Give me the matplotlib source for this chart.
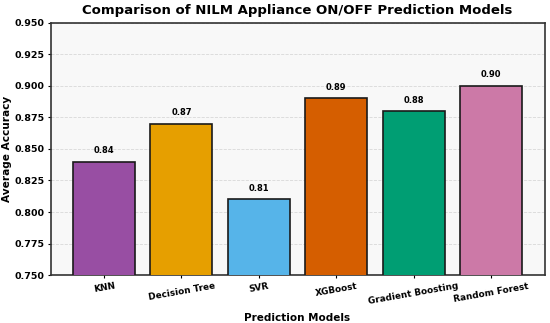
import matplotlib
matplotlib.use("Agg")
import matplotlib.pyplot as plt

models = ["KNN", "Decision Tree", "SVR", "XGBoost", "Gradient Boosting", "Random Forest"]
accuracy = [0.84, 0.87, 0.81, 0.89, 0.88, 0.90]
colors = ["#984ea3", "#e69f00", "#56b4e9", "#d55e00", "#009e73", "#cc79a7"]
yticks = [0.750, 0.775, 0.800, 0.825, 0.850, 0.875, 0.900, 0.925, 0.950]

fig, ax = plt.subplots(figsize=(5.5, 3.23), dpi=100)
fig.subplots_adjust(left=0.092, right=0.99, top=0.93, bottom=0.148)
ax.set_facecolor("#f8f8f8")
x = range(len(models))
bars = ax.bar(x, accuracy, width=0.8, color=colors, edgecolor="#1a1a1a", linewidth=1.2, zorder=3)
for xi, v in zip(x, accuracy):
    ax.text(xi, v + 0.005, f"{v:.2f}", ha="center", va="bottom", fontsize=6, fontweight="bold", zorder=4)

ax.set_ylim(0.75, 0.95)
ax.set_yticks(yticks)
ax.set_yticklabels([f"{t:.3f}" for t in yticks], fontsize=6.8, fontweight="bold")
ax.set_xticks(list(x))
ax.set_xticklabels(models, rotation=10, ha="center", fontsize=6.4, fontweight="bold")
ax.grid(axis="y", linestyle="--", color="#d0d0d0", linewidth=0.6, alpha=0.8, zorder=0)
ax.set_axisbelow(True)
for s in ax.spines.values():
    s.set_color("#333333")
    s.set_linewidth(1.2)
ax.tick_params(axis="both", length=2.5, width=0.8, pad=2)

ax.set_title("Comparison of NILM Appliance ON/OFF Prediction Models", fontsize=9.5, fontweight="bold", pad=6)
ax.set_xlabel("Prediction Models", fontsize=7.5, fontweight="bold", labelpad=5)
ax.set_ylabel("Average Accuracy", fontsize=7.6, fontweight="bold", labelpad=1.5)

fig.savefig("out.png", dpi=100)
